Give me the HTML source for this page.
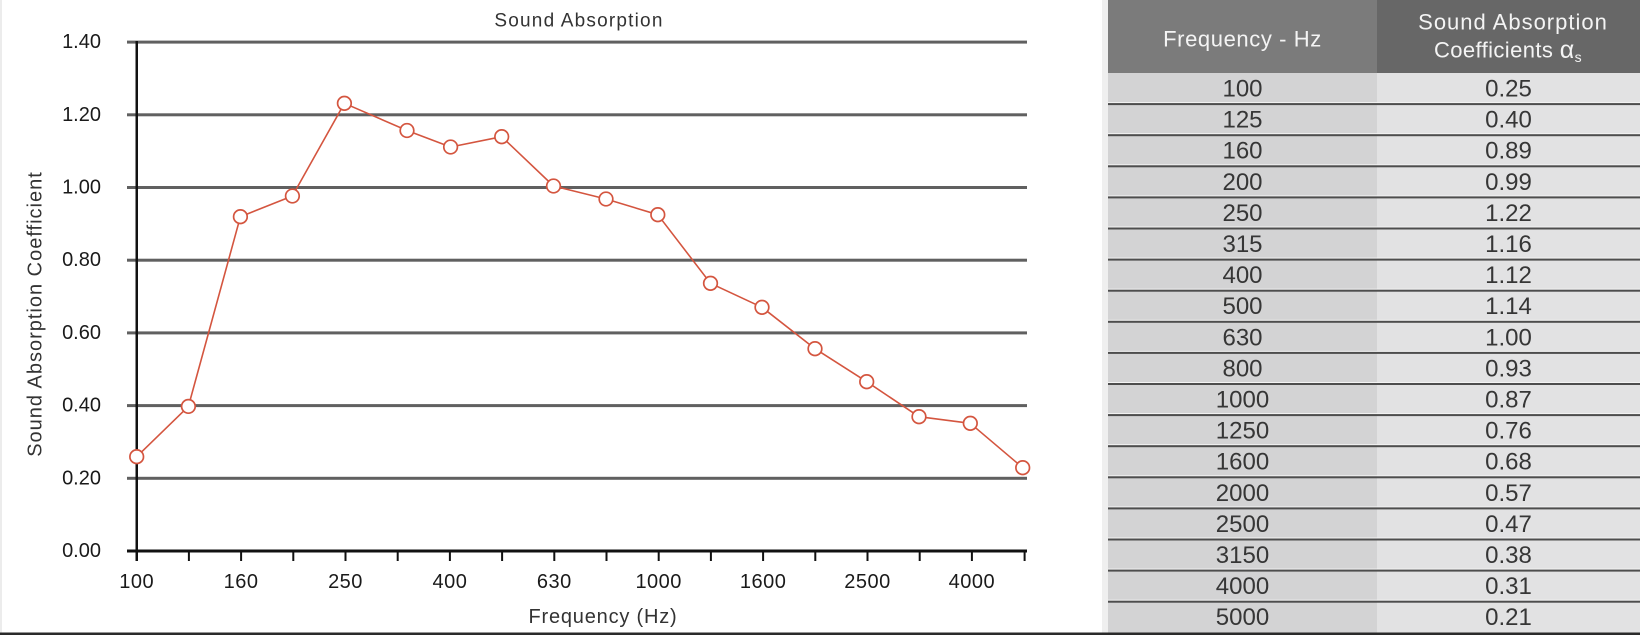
<!DOCTYPE html>
<html>
<head>
<meta charset="utf-8">
<style>
  html,body{margin:0;padding:0;background:#fff;}
  svg{display:block;}
  text{font-family:"Liberation Sans",sans-serif;}
</style>
</head>
<body>
<svg width="1640" height="636" viewBox="0 0 1640 636" xmlns="http://www.w3.org/2000/svg">
  <rect x="0" y="0" width="1640" height="636" fill="#ffffff"/>
  <rect x="0" y="0" width="2" height="633" fill="#ececec"/>

  <!-- Chart title -->
  <text x="579" y="21" font-size="19" fill="#333" text-anchor="middle" dominant-baseline="central" letter-spacing="1.2">Sound Absorption</text>

  <!-- Gridlines -->
  <g fill="#606060">
    <rect x="127" y="40.6" width="900" height="3"/>
    <rect x="127" y="113.3" width="900" height="3"/>
    <rect x="127" y="186" width="900" height="3"/>
    <rect x="127" y="258.7" width="900" height="3"/>
    <rect x="127" y="331.4" width="900" height="3"/>
    <rect x="127" y="404.1" width="900" height="3"/>
    <rect x="127" y="476.8" width="900" height="3"/>
  </g>

  <!-- Axes -->
  <rect x="135.5" y="41" width="2.5" height="520" fill="#111"/>
  <rect x="127" y="549.5" width="900" height="3" fill="#111"/>
  <g stroke="#111" stroke-width="2">
    <line x1="136.7" y1="551" x2="136.7" y2="561"/>
    <line x1="188.9" y1="551" x2="188.9" y2="561"/>
    <line x1="241.1" y1="551" x2="241.1" y2="561"/>
    <line x1="293.3" y1="551" x2="293.3" y2="561"/>
    <line x1="345.5" y1="551" x2="345.5" y2="561"/>
    <line x1="397.7" y1="551" x2="397.7" y2="561"/>
    <line x1="449.9" y1="551" x2="449.9" y2="561"/>
    <line x1="502.1" y1="551" x2="502.1" y2="561"/>
    <line x1="554.3" y1="551" x2="554.3" y2="561"/>
    <line x1="606.5" y1="551" x2="606.5" y2="561"/>
    <line x1="658.7" y1="551" x2="658.7" y2="561"/>
    <line x1="710.9" y1="551" x2="710.9" y2="561"/>
    <line x1="763.1" y1="551" x2="763.1" y2="561"/>
    <line x1="815.3" y1="551" x2="815.3" y2="561"/>
    <line x1="867.5" y1="551" x2="867.5" y2="561"/>
    <line x1="919.7" y1="551" x2="919.7" y2="561"/>
    <line x1="971.9" y1="551" x2="971.9" y2="561"/>
    <line x1="1024.6" y1="551" x2="1024.6" y2="561"/>
  </g>

  <!-- Y tick labels -->
  <g font-size="20" fill="#1a1a1a" text-anchor="end" dominant-baseline="central">
    <text x="101" y="42.1">1.40</text>
    <text x="101" y="114.8">1.20</text>
    <text x="101" y="187.5">1.00</text>
    <text x="101" y="260.2">0.80</text>
    <text x="101" y="332.9">0.60</text>
    <text x="101" y="405.6">0.40</text>
    <text x="101" y="478.3">0.20</text>
    <text x="101" y="551">0.00</text>
  </g>

  <!-- X tick labels -->
  <g font-size="20" fill="#1a1a1a" text-anchor="middle" dominant-baseline="central" letter-spacing="0.5">
    <text x="136.7" y="582">100</text>
    <text x="241.1" y="582">160</text>
    <text x="345.5" y="582">250</text>
    <text x="449.9" y="582">400</text>
    <text x="554.3" y="582">630</text>
    <text x="658.7" y="582">1000</text>
    <text x="763.1" y="582">1600</text>
    <text x="867.5" y="582">2500</text>
    <text x="971.9" y="582">4000</text>
  </g>

  <!-- Axis titles -->
  <text x="603" y="617" font-size="20" fill="#333" text-anchor="middle" dominant-baseline="central" letter-spacing="0.8">Frequency (Hz)</text>
  <text x="0" y="0" font-size="20" fill="#333" text-anchor="middle" dominant-baseline="central" letter-spacing="1" transform="translate(35.5,314) rotate(-90)">Sound Absorption Coefficient</text>

  <!-- Data series -->
  <polyline fill="none" stroke="#d4553f" stroke-width="1.6" stroke-linejoin="round"
    points="136.7,456.7 188.4,406.4 240.4,216.7 292.4,196 344.4,103.3 407,130.5 450.6,147 501.7,136.7 553.5,186 606,199 657.8,214.7 710.5,283.3 762,307.3 815,348.7 866.7,381.7 919,416.7 970.3,423.3 1022.7,467.7"/>
  <g fill="#ffffff" stroke="#d4553f" stroke-width="1.7">
    <circle cx="136.7" cy="456.7" r="6.8"/>
    <circle cx="188.4" cy="406.4" r="6.8"/>
    <circle cx="240.4" cy="216.7" r="6.8"/>
    <circle cx="292.4" cy="196" r="6.8"/>
    <circle cx="344.4" cy="103.3" r="6.8"/>
    <circle cx="407" cy="130.5" r="6.8"/>
    <circle cx="450.6" cy="147" r="6.8"/>
    <circle cx="501.7" cy="136.7" r="6.8"/>
    <circle cx="553.5" cy="186" r="6.8"/>
    <circle cx="606" cy="199" r="6.8"/>
    <circle cx="657.8" cy="214.7" r="6.8"/>
    <circle cx="710.5" cy="283.3" r="6.8"/>
    <circle cx="762" cy="307.3" r="6.8"/>
    <circle cx="815" cy="348.7" r="6.8"/>
    <circle cx="866.7" cy="381.7" r="6.8"/>
    <circle cx="919" cy="416.7" r="6.8"/>
    <circle cx="970.3" cy="423.3" r="6.8"/>
    <circle cx="1022.7" cy="467.7" r="6.8"/>
  </g>

  <!-- Table -->
  <rect x="1102" y="0" width="6" height="633" fill="#efefef"/>
  <rect x="1108" y="0" width="269" height="73" fill="#7b7b7b"/>
  <rect x="1377" y="0" width="263" height="73" fill="#676767"/>
  <rect x="1108" y="73" width="269" height="560" fill="#d3d3d4"/>
  <rect x="1377" y="73" width="263" height="560" fill="#e2e2e3"/>

  <g font-size="22" fill="#f4f4f4" text-anchor="middle" dominant-baseline="central">
    <text x="1242.5" y="39" letter-spacing="0.6">Frequency - Hz</text>
    <text x="1513" y="22" letter-spacing="1">Sound Absorption</text>
    <text x="1508" y="50" letter-spacing="0.4">Coefficients <tspan font-size="25">α</tspan><tspan font-size="14" dy="7">s</tspan></text>
  </g>

  <!-- Row separators -->
  <g>
    <rect x="1108" y="102.1" width="532" height="1" fill="#f4f4f4"/><rect x="1108" y="103.1" width="532" height="2" fill="#4d4d4d"/>
    <rect x="1108" y="133.2" width="532" height="1" fill="#f4f4f4"/><rect x="1108" y="134.2" width="532" height="2" fill="#4d4d4d"/>
    <rect x="1108" y="164.3" width="532" height="1" fill="#f4f4f4"/><rect x="1108" y="165.3" width="532" height="2" fill="#4d4d4d"/>
    <rect x="1108" y="195.4" width="532" height="1" fill="#f4f4f4"/><rect x="1108" y="196.4" width="532" height="2" fill="#4d4d4d"/>
    <rect x="1108" y="226.5" width="532" height="1" fill="#f4f4f4"/><rect x="1108" y="227.5" width="532" height="2" fill="#4d4d4d"/>
    <rect x="1108" y="257.6" width="532" height="1" fill="#f4f4f4"/><rect x="1108" y="258.6" width="532" height="2" fill="#4d4d4d"/>
    <rect x="1108" y="288.7" width="532" height="1" fill="#f4f4f4"/><rect x="1108" y="289.7" width="532" height="2" fill="#4d4d4d"/>
    <rect x="1108" y="319.8" width="532" height="1" fill="#f4f4f4"/><rect x="1108" y="320.8" width="532" height="2" fill="#4d4d4d"/>
    <rect x="1108" y="350.9" width="532" height="1" fill="#f4f4f4"/><rect x="1108" y="351.9" width="532" height="2" fill="#4d4d4d"/>
    <rect x="1108" y="382.0" width="532" height="1" fill="#f4f4f4"/><rect x="1108" y="383.0" width="532" height="2" fill="#4d4d4d"/>
    <rect x="1108" y="413.1" width="532" height="1" fill="#f4f4f4"/><rect x="1108" y="414.1" width="532" height="2" fill="#4d4d4d"/>
    <rect x="1108" y="444.2" width="532" height="1" fill="#f4f4f4"/><rect x="1108" y="445.2" width="532" height="2" fill="#4d4d4d"/>
    <rect x="1108" y="475.3" width="532" height="1" fill="#f4f4f4"/><rect x="1108" y="476.3" width="532" height="2" fill="#4d4d4d"/>
    <rect x="1108" y="506.4" width="532" height="1" fill="#f4f4f4"/><rect x="1108" y="507.4" width="532" height="2" fill="#4d4d4d"/>
    <rect x="1108" y="537.5" width="532" height="1" fill="#f4f4f4"/><rect x="1108" y="538.5" width="532" height="2" fill="#4d4d4d"/>
    <rect x="1108" y="568.6" width="532" height="1" fill="#f4f4f4"/><rect x="1108" y="569.6" width="532" height="2" fill="#4d4d4d"/>
    <rect x="1108" y="599.7" width="532" height="1" fill="#f4f4f4"/><rect x="1108" y="600.7" width="532" height="2" fill="#4d4d4d"/>
  </g>

  <!-- Table body text -->
  <g font-size="24" fill="#363636" text-anchor="middle" dominant-baseline="central">
    <text x="1242.5" y="89">100</text><text x="1508.5" y="89">0.25</text>
    <text x="1242.5" y="120.1">125</text><text x="1508.5" y="120.1">0.40</text>
    <text x="1242.5" y="151.2">160</text><text x="1508.5" y="151.2">0.89</text>
    <text x="1242.5" y="182.3">200</text><text x="1508.5" y="182.3">0.99</text>
    <text x="1242.5" y="213.4">250</text><text x="1508.5" y="213.4">1.22</text>
    <text x="1242.5" y="244.5">315</text><text x="1508.5" y="244.5">1.16</text>
    <text x="1242.5" y="275.6">400</text><text x="1508.5" y="275.6">1.12</text>
    <text x="1242.5" y="306.7">500</text><text x="1508.5" y="306.7">1.14</text>
    <text x="1242.5" y="337.8">630</text><text x="1508.5" y="337.8">1.00</text>
    <text x="1242.5" y="368.9">800</text><text x="1508.5" y="368.9">0.93</text>
    <text x="1242.5" y="400">1000</text><text x="1508.5" y="400">0.87</text>
    <text x="1242.5" y="431.1">1250</text><text x="1508.5" y="431.1">0.76</text>
    <text x="1242.5" y="462.2">1600</text><text x="1508.5" y="462.2">0.68</text>
    <text x="1242.5" y="493.3">2000</text><text x="1508.5" y="493.3">0.57</text>
    <text x="1242.5" y="524.4">2500</text><text x="1508.5" y="524.4">0.47</text>
    <text x="1242.5" y="555.5">3150</text><text x="1508.5" y="555.5">0.38</text>
    <text x="1242.5" y="586.6">4000</text><text x="1508.5" y="586.6">0.31</text>
    <text x="1242.5" y="617.7">5000</text><text x="1508.5" y="617.7">0.21</text>
  </g>

  <!-- Bottom rule -->
  <rect x="0" y="632.5" width="1640" height="2.5" fill="#2a2a2a"/>
</svg>
</body>
</html>
